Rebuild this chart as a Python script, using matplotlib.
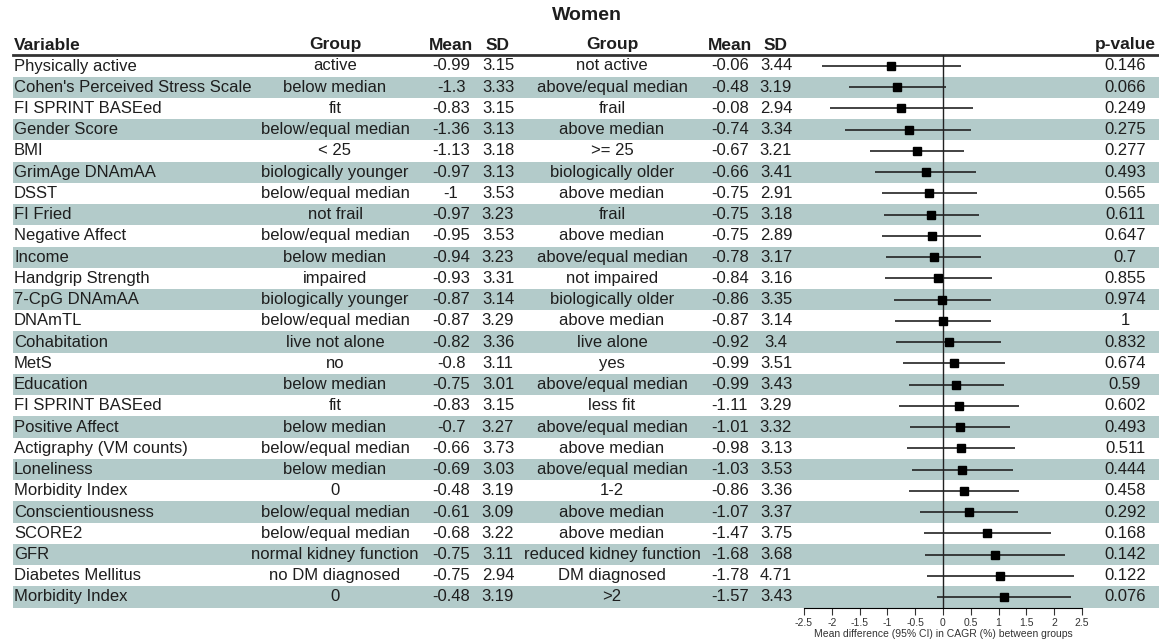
import matplotlib.pyplot as plt
from matplotlib.ticker import FormatStrFormatter

plt.rcParams['font.family'] = ['Liberation Sans', 'DejaVu Sans']
plt.rcParams['axes.unicode_minus'] = False

# Données
variables = ["Physically active", "Cohen's Perceived Stress Scale", "FI SPRINT BASEed", "Gender Score",
             "BMI", "GrimAge DNAmAA", "DSST", "FI Fried", "Negative Affect", "Income",
             "Handgrip Strength", "7-CpG DNAmAA", "DNAmTL", "Cohabitation", "MetS", "Education",
             "FI SPRINT BASEed", "Positive Affect", "Actigraphy (VM counts)", "Loneliness",
             "Morbidity Index", "Conscientiousness", "SCORE2", "GFR", "Diabetes Mellitus",
             "Morbidity Index"]
group1 = ["active", "below median", "fit", "below/equal median", "< 25", "biologically younger",
          "below/equal median", "not frail", "below/equal median", "below median", "impaired",
          "biologically younger", "below/equal median", "live not alone", "no", "below median",
          "fit", "below median", "below/equal median", "below median", "0", "below/equal median",
          "below/equal median", "normal kidney function", "no DM diagnosed", "0"]
mean1 = [-0.99, -1.3, -0.83, -1.36, -1.13, -0.97, -1, -0.97, -0.95, -0.94, -0.93, -0.87, -0.87,
         -0.82, -0.8, -0.75, -0.83, -0.7, -0.66, -0.69, -0.48, -0.61, -0.68, -0.75, -0.75, -0.48]
sd1 = [3.15, 3.33, 3.15, 3.13, 3.18, 3.13, 3.53, 3.23, 3.53, 3.23, 3.31, 3.14, 3.29,
       3.36, 3.11, 3.01, 3.15, 3.27, 3.73, 3.03, 3.19, 3.09, 3.22, 3.11, 2.94, 3.19]
group2 = ["not active", "above/equal median", "frail", "above median", ">= 25", "biologically older",
          "above median", "frail", "above median", "above/equal median", "not impaired",
          "biologically older", "above median", "live alone", "yes", "above/equal median",
          "less fit", "above/equal median", "above median", "above/equal median", "1-2",
          "above median", "above median", "reduced kidney function", "DM diagnosed", ">2"]
mean2 = [-0.06, -0.48, -0.08, -0.74, -0.67, -0.66, -0.75, -0.75, -0.75, -0.78, -0.84, -0.86, -0.87,
         -0.92, -0.99, -0.99, -1.11, -1.01, -0.98, -1.03, -0.86, -1.07, -1.47, -1.68, -1.78, -1.57]
sd2 = [3.44, 3.19, 2.94, 3.34, 3.21, 3.41, 2.91, 3.18, 2.89, 3.17, 3.16, 3.35, 3.14,
       3.4, 3.51, 3.43, 3.29, 3.32, 3.13, 3.53, 3.36, 3.37, 3.75, 3.68, 4.71, 3.43]
p_values = [0.146, 0.066, 0.249, 0.275, 0.277, 0.493, 0.565, 0.611, 0.647, 0.7, 0.855, 0.974, 1,
            0.832, 0.674, 0.59, 0.602, 0.493, 0.511, 0.444, 0.458, 0.292, 0.168, 0.142, 0.122, 0.076]

# Différence moyenne et IC 95%
estimate = [-0.93, -0.82, -0.75, -0.62, -0.46, -0.31, -0.25, -0.22, -0.20, -0.16, -0.09, -0.01, 0.00,
            0.10, 0.19, 0.24, 0.28, 0.31, 0.32, 0.34, 0.38, 0.46, 0.79, 0.93, 1.03, 1.09]
ci_low = [-2.18, -1.69, -2.04, -1.76, -1.32, -1.23, -1.10, -1.06, -1.10, -1.02, -1.05, -0.88, -0.86,
          -0.84, -0.72, -0.62, -0.80, -0.59, -0.65, -0.55, -0.62, -0.41, -0.35, -0.32, -0.28, -0.11]
ci_high = [0.33, 0.05, 0.54, 0.51, 0.38, 0.60, 0.61, 0.64, 0.69, 0.69, 0.88, 0.86, 0.86,
           1.04, 1.11, 1.09, 1.37, 1.21, 1.30, 1.26, 1.37, 1.34, 1.95, 2.19, 2.35, 2.31]
x_ticks = [-2.5, -2, -1.5, -1, -0.5, 0, 0.5, 1, 1.5, 2, 2.5]

# Mise en page (pixels)
W, H = 1159, 640
ROW0, ROWH = 66, 21.24
stripe = '#b3cbca'
txt = '#1e1e1e'
fs = 12
hfs = 12.5

# centres des colonnes (px)
c_var, c_g1, c_m1, c_sd1 = 14, 335, 451, 498
c_g2, c_m2, c_sd2, c_p = 612, 730, 776, 1125


def px2row(p):
    return (p - ROW0) / ROWH


n = len(variables)
rows = list(range(n))

fig = plt.figure(figsize=(W / 100, H / 100), dpi=100)

# Tableau : x en pixels, y en numéro de ligne
ax = fig.add_axes([0, 0, 1, 1])
ax.set_xlim(0, W)
ax.set_ylim(px2row(H), px2row(0))
ax.axis('off')

for i in rows:
    if i % 2 == 1:
        ax.fill_between([13, W], i - 0.5, i + 0.5, color=stripe, lw=0, zorder=0)
    ax.text(c_var, i, variables[i], ha='left', va='center', fontsize=fs, color=txt)
    ax.text(c_g1, i, group1[i], ha='center', va='center', fontsize=fs, color=txt)
    ax.text(c_m1, i, '%g' % mean1[i], ha='center', va='center', fontsize=fs, color=txt)
    ax.text(c_sd1, i, '%g' % sd1[i], ha='center', va='center', fontsize=fs, color=txt)
    ax.text(c_g2, i, group2[i], ha='center', va='center', fontsize=fs, color=txt)
    ax.text(c_m2, i, '%g' % mean2[i], ha='center', va='center', fontsize=fs, color=txt)
    ax.text(c_sd2, i, '%g' % sd2[i], ha='center', va='center', fontsize=fs, color=txt)
    ax.text(c_p, i, '%g' % p_values[i], ha='center', va='center', fontsize=fs, color=txt)

# En-têtes
hy = px2row(45)
hd = dict(va='center', fontsize=hfs, fontweight='bold', color=txt)
ax.text(587, px2row(15), 'Women', ha='center', va='center', fontsize=14, fontweight='bold', color=txt)
ax.text(c_var, hy, 'Variable', ha='left', **hd)
ax.text(c_g1, hy, 'Group', ha='center', **hd)
ax.text(c_m1, hy, 'Mean', ha='center', **hd)
ax.text(c_sd1, hy, 'SD', ha='center', **hd)
ax.text(c_g2, hy, 'Group', ha='center', **hd)
ax.text(c_m2, hy, 'Mean', ha='center', **hd)
ax.text(c_sd2, hy, 'SD', ha='center', **hd)
ax.text(c_p, hy, 'p-value', ha='center', **hd)
ax.plot([13, W], [px2row(55), px2row(55)], color='#333333', lw=2)

# Forest plot
x0, x1 = 804, 1082
top, bottom = 55, 608
fax = fig.add_axes([x0 / W, 1 - bottom / H, (x1 - x0) / W, (bottom - top) / H])
fax.patch.set_alpha(0)
fax.set_xlim(-2.5, 2.5)
fax.set_ylim(px2row(bottom), px2row(top))
for s in ['top', 'right', 'left']:
    fax.spines[s].set_visible(False)
fax.spines['bottom'].set_linewidth(0.8)
fax.set_yticks([])
fax.set_xticks(x_ticks)
fax.xaxis.set_major_formatter(FormatStrFormatter('%g'))
fax.tick_params(axis='x', direction='out', length=5, width=0.8, labelsize=7.5, pad=2, colors='#333333')
fax.axvline(0, color='#222222', lw=1)
fax.hlines(rows, ci_low, ci_high, color='#222222', lw=1.2, clip_on=False)
fax.plot(estimate, rows, 's', color='black', ms=5.5, clip_on=False)
fax.set_xlabel('Mean difference (95% CI) in CAGR (%) between groups', fontsize=7.5, labelpad=1, color='#333333')

fig.savefig('out.png', dpi=100)
